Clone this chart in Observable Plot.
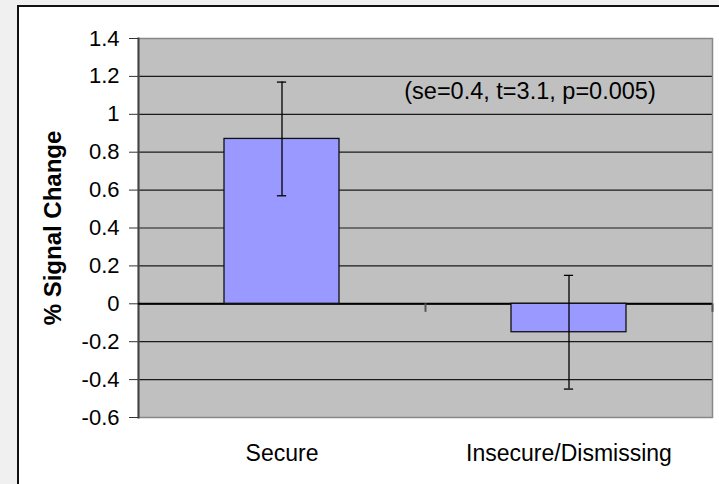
<!DOCTYPE html>
<html>
<head>
<meta charset="utf-8">
<script src="https://cdn.jsdelivr.net/npm/d3@7"></script>
<script src="https://cdn.jsdelivr.net/npm/@observablehq/plot@0.6"></script>
<style>
  html, body { margin: 0; padding: 0; width: 719px; height: 484px; overflow: hidden; background: #f0f0f0; }
  #box { position: absolute; left: 17px; top: 5px; width: 800px; height: 600px; box-sizing: border-box;
         border: 2px solid #111; background: #ffffff; }
  #chart { position: absolute; left: 0; top: 0; }
  #chart svg { background: transparent !important; }
</style>
</head>
<body>
<div id="box"></div>
<div id="chart"></div>
<script>
// ---- data ----
const categories = ["Secure", "Insecure/Dismissing"];
const means = [0.87, -0.15];
const errors = [0.30, 0.30];
const yTicks = [-0.6, -0.4, -0.2, 0, 0.2, 0.4, 0.6, 0.8, 1, 1.2, 1.4];
const yTickLabels = ["-0.6", "-0.4", "-0.2", "0", "0.2", "0.4", "0.6", "0.8", "1", "1.2", "1.4"];
const annotationText = "(se=0.4, t=3.1, p=0.005)";
const annotationY = 1.12;
const yLabel = "% Signal Change";

// ---- layout ----
const W = 719, H = 484;
const mL = 138, mR = 7, mT = 38, mB = 67;
const padInner = 0.6, padOuter = 0.3;
const step = (W - mL - mR) / (categories.length - padInner + 2 * padOuter);
const bandW = step * (1 - padInner);
const capW = 9;

const data = categories.map((c, i) => ({cat: c, mean: means[i], lo: means[i] - errors[i], hi: means[i] + errors[i]}));
const tickData = yTicks.map((v, i) => ({v, label: yTickLabels[i]}));
const font = "Arial, 'Liberation Sans', sans-serif";

const chart = Plot.plot({
  width: W, height: H,
  marginLeft: mL, marginRight: mR, marginTop: mT, marginBottom: mB,
  style: {fontFamily: font, background: "transparent", color: "#000"},
  x: {type: "band", domain: categories, paddingInner: padInner, paddingOuter: padOuter, axis: null},
  y: {domain: [-0.6, 1.4], axis: null},
  marks: [
    Plot.frame({fill: "#c0c0c0"}),
    Plot.ruleY(yTicks, {stroke: "#1a1a1a", strokeWidth: 1.2}),
    Plot.frame({stroke: "#888888", strokeWidth: 1.5}),
    Plot.frame({anchor: "left", stroke: "#444444", strokeWidth: 2}),
    Plot.axisY({ticks: yTicks, tickSize: 9, stroke: "#333", tickFormat: () => "", label: null}),
    Plot.text(tickData, {y: "v", text: "label", frameAnchor: "left", textAnchor: "end", dx: -19,
      fontSize: 22, fill: "#000"}),
    Plot.ruleY([0], {stroke: "#000", strokeWidth: 2}),
    Plot.ruleX(categories, {x: d => d, dx: step / 2, y1: 0, y2: -0.045, stroke: "#555", strokeWidth: 2}),
    Plot.barY(data, {x: "cat", y: "mean", fill: "#9999ff", stroke: "#111", strokeWidth: 1.3}),
    Plot.ruleX(data, {x: "cat", y1: "lo", y2: "hi", stroke: "#000", strokeWidth: 1.3}),
    Plot.tickY(data, {x: "cat", y: "lo", stroke: "#000", strokeWidth: 1.3, inset: (bandW - capW) / 2}),
    Plot.tickY(data, {x: "cat", y: "hi", stroke: "#000", strokeWidth: 1.3, inset: (bandW - capW) / 2}),
    Plot.text([annotationText], {x: () => categories[1], y: () => annotationY, text: d => d,
      textAnchor: "middle", dx: -39, fontSize: 23.5, fill: "#000"}),
    Plot.text([yLabel], {frameAnchor: "left", text: d => d, rotate: -90, dx: -85, textAnchor: "middle",
      fontSize: 24, fontWeight: "bold", fill: "#000"}),
    Plot.axisX({tickSize: 0, tickPadding: 27, fontSize: 23, label: null})
  ]
});
document.getElementById("chart").appendChild(chart);
</script>
</body>
</html>
